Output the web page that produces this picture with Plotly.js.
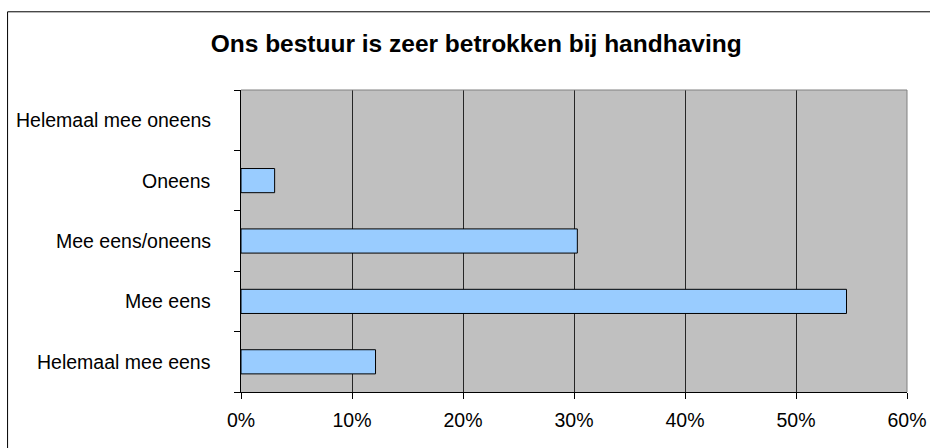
<!DOCTYPE html>
<html>
<head>
<meta charset="utf-8">
<script src="https://cdn.plot.ly/plotly-3.0.1.min.js"></script>
<style>
  html, body { margin: 0; padding: 0; background: #fff; }
  #myDiv { width: 930px; height: 448px; }
</style>
</head>
<body>
<div id="myDiv"></div>
<script>
// categories bottom to top, as in the chart
var categories = ['Helemaal mee eens', 'Mee eens', 'Mee eens/oneens', 'Oneens', 'Helemaal mee oneens'];
var shares = [0.1212, 0.5455, 0.3030, 0.0303, 0];
var xTicks = [0, 0.1, 0.2, 0.3, 0.4, 0.5, 0.6];
var xTickLabels = ['0%', '10%', '20%', '30%', '40%', '50%', '60%'];

var FONT = 'Liberation Sans, Arial, sans-serif';

var bars = {
	y: categories,
	x: shares,
	type: 'bar',
	orientation: 'h',
	width: 0.4,
	marker: {
		color: '#99CCFF',
		// an empty bar gets no outline, as in Excel
		line: { color: '#000000', width: shares.map(function (v) { return v > 0 ? 1 : 0; }) }
	},
	hoverinfo: 'x+y'
};

// category labels, right aligned a bit away from the axis
var labelNotes = categories.map(function (c) {
	return {
		xref: 'paper',
		yref: 'y',
		x: -0.042,
		y: c,
		text: c,
		showarrow: false,
		xanchor: 'right',
		yanchor: 'middle',
		font: { family: FONT, size: 19.5, color: '#000' }
	};
});

var layout = {
	width: 930,
	height: 448,
	margin: { l: 241, r: 23, t: 90, b: 56 },
	title: {
		text: '<b>Ons bestuur is zeer betrokken bij handhaving</b>',
		font: { family: FONT, size: 24.5, color: '#000' },
		x: 0.512,
		xanchor: 'center',
		xref: 'container',
		y: 0.902,
		yanchor: 'middle',
		yref: 'container'
	},
	xaxis: {
		range: [0, 0.6],
		tickvals: xTicks,
		ticktext: xTickLabels,
		ticks: 'outside',
		ticklen: 6,
		tickcolor: '#000',
		ticklabelstandoff: 5,
		showline: true,
		linecolor: '#000',
		linewidth: 1,
		showgrid: true,
		gridcolor: '#262626',
		gridwidth: 1,
		zeroline: false,
		tickfont: { family: FONT, size: 19.5, color: '#000' },
		fixedrange: true
	},
	yaxis: {
		type: 'category',
		categoryorder: 'array',
		categoryarray: categories,
		ticks: 'outside',
		tickson: 'boundaries',
		ticklen: 6,
		tickcolor: '#000',
		showline: true,
		linecolor: '#000',
		linewidth: 1,
		showgrid: false,
		showticklabels: false,
		zeroline: false,
		fixedrange: true
	},
	plot_bgcolor: '#C0C0C0',
	paper_bgcolor: '#FFFFFF',
	showlegend: false,
	annotations: labelNotes,
	shapes: [
		// outer chart frame (runs off the picture at right and bottom)
		{ type: 'rect', xref: 'paper', yref: 'paper', x0: -0.3505, x1: 1.2, y0: -0.5, y1: 1.259,
		  line: { color: '#000', width: 1 }, fillcolor: 'rgba(0,0,0,0)', layer: 'above' },
		// grey plot area border top and right
		{ type: 'line', xref: 'paper', yref: 'paper', x0: 0, x1: 1, y0: 1, y1: 1,
		  line: { color: '#808080', width: 1 }, layer: 'above' },
		{ type: 'line', xref: 'paper', yref: 'paper', x0: 1, x1: 1, y0: 0, y1: 1,
		  line: { color: '#808080', width: 1 }, layer: 'above' }
	]
};

Plotly.newPlot('myDiv', [bars], layout, { displayModeBar: false, staticPlot: true });
</script>
</body>
</html>
